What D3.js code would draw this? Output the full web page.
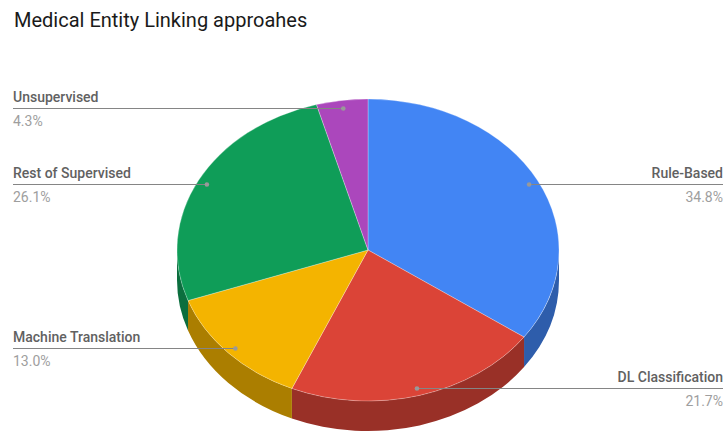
<!DOCTYPE html>
<html>
<head>
<meta charset="utf-8">
<script src="https://cdn.jsdelivr.net/npm/d3@7"></script>
<style>
  html, body { margin: 0; padding: 0; background: #fff; }
  svg { display: block; font-family: Roboto, "Noto Sans", sans-serif; }
</style>
</head>
<body>
<svg id="chart" width="726" height="432"></svg>
<script>
// Medical entity linking approaches, share of surveyed papers
const categories = ["Rule-Based", "DL Classification", "Machine Translation", "Rest of Supervised", "Unsupervised"];
const counts = [8, 5, 3, 6, 1];
const colors = ["#4285F4", "#DB4437", "#F4B400", "#0F9D58", "#AB47BC"];
const titleText = "Medical Entity Linking approahes";

const W = 726, H = 432;
const cx = 368, cy = 250;      // centre of the top face
const rx = 191, ry = 151;      // ellipse radii of the tilted disc
const depth = 30;              // thickness of the disc
const leftX = 13, rightX = 723;

const svg = d3.select("#chart");

svg.append("text")
  .attr("x", 14).attr("y", 27)
  .attr("font-size", 20)
  .attr("fill", "#1a1a1a")
  .text(titleText);

const total = d3.sum(counts);
const pie = d3.pie().sort(null).value(d => d)(counts);
const fmt = d3.format(".1f");

// point on the top ellipse at pie angle a (clockwise from 12 o'clock)
const pt = (a, k = 1, dy = 0) => [cx + rx * k * Math.sin(a), cy - ry * k * Math.cos(a) + dy];

// side walls: only the front half (between 3 and 9 o'clock) is visible
const sides = svg.append("g");
pie.forEach((s, i) => {
  const a0 = Math.max(s.startAngle, Math.PI / 2);
  const a1 = Math.min(s.endAngle, 3 * Math.PI / 2);
  if (a1 <= a0) return;
  const p0 = pt(a0), p1 = pt(a1), q1 = pt(a1, 1, depth), q0 = pt(a0, 1, depth);
  const large = (a1 - a0) > Math.PI ? 1 : 0;
  const d = `M${p0}A${rx},${ry} 0 ${large} 1 ${p1}L${q1}A${rx},${ry} 0 ${large} 0 ${q0}Z`;
  sides.append("path")
    .attr("d", d)
    .attr("fill", d3.color(colors[i]).darker(1).formatHex());
});

// top faces: a circular arc squashed vertically
const arc = d3.arc().innerRadius(0).outerRadius(rx);
svg.append("g")
  .attr("transform", `translate(${cx},${cy}) scale(1,${ry / rx})`)
  .selectAll("path")
  .data(pie)
  .join("path")
  .attr("d", arc)
  .attr("fill", (d, i) => colors[i])
  .attr("stroke", "#ffffff")
  .attr("stroke-opacity", 0.35)
  .attr("stroke-width", 0.8)
  .attr("vector-effect", "non-scaling-stroke");

// leader lines with labels and percentages
const labels = svg.append("g");
pie.forEach((s, i) => {
  const mid = (s.startAngle + s.endAngle) / 2;
  const [dx, dy] = pt(mid, 0.95);
  const y = Math.round(dy) + 0.5;
  const right = Math.sin(mid) > 0;
  const ex = right ? rightX : leftX;
  labels.append("line")
    .attr("x1", dx).attr("y1", y)
    .attr("x2", ex).attr("y2", y)
    .attr("stroke", "#858585").attr("stroke-width", 1.2);
  labels.append("circle")
    .attr("cx", dx).attr("cy", y).attr("r", 2.3)
    .attr("fill", "#999999");
  const anchor = right ? "end" : "start";
  labels.append("text")
    .attr("x", ex).attr("y", y - 7)
    .attr("text-anchor", anchor)
    .attr("font-size", 14).attr("font-weight", 500)
    .attr("fill", "#616161")
    .text(categories[i]);
  labels.append("text")
    .attr("x", ex).attr("y", y + 17)
    .attr("text-anchor", anchor)
    .attr("font-size", 14)
    .attr("fill", "#9e9e9e")
    .text(fmt(counts[i] / total * 100) + "%");
});
</script>
</body>
</html>
